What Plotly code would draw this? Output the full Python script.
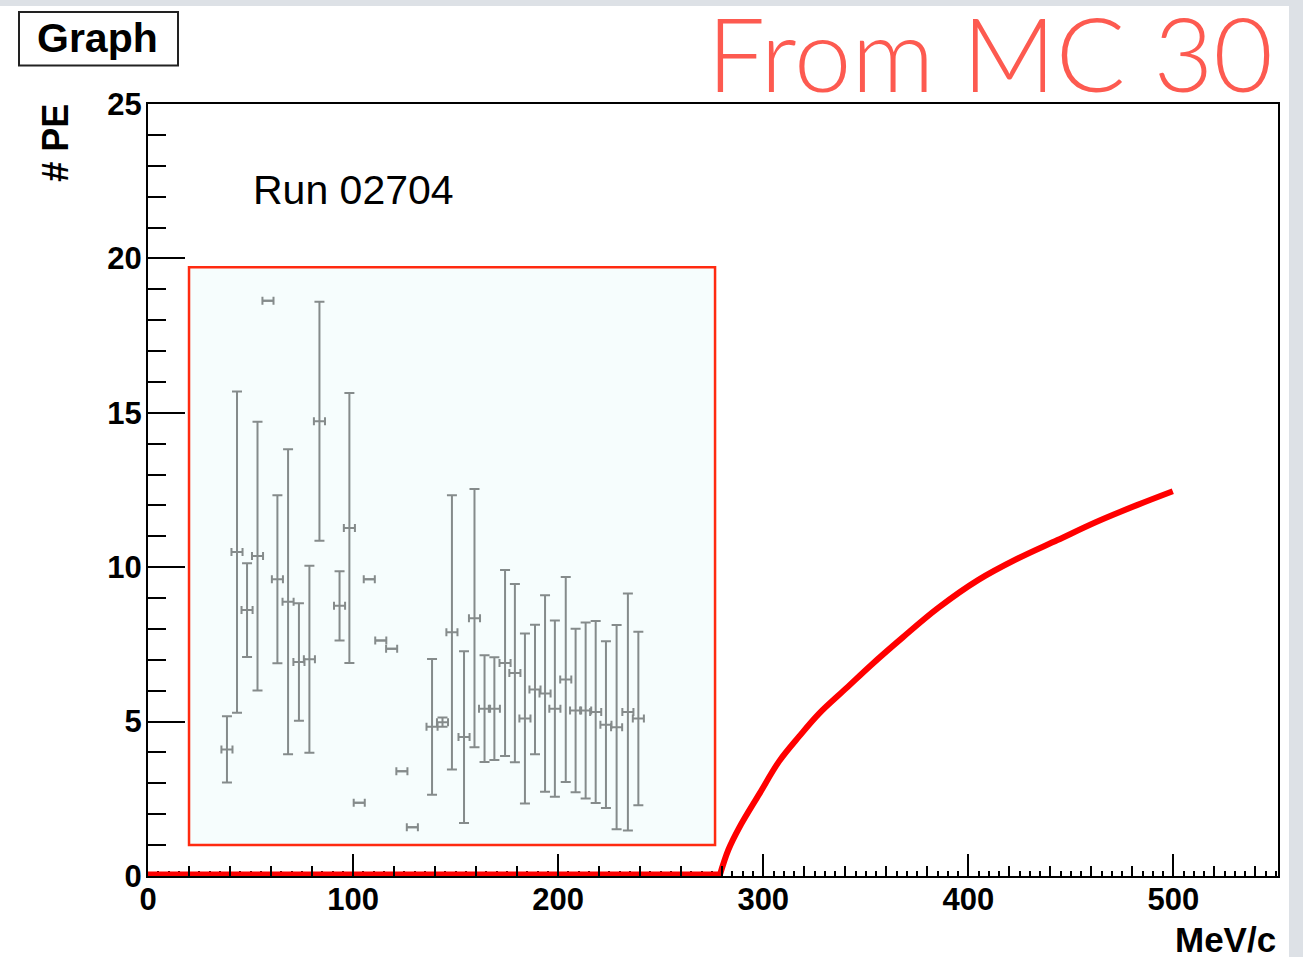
import plotly.graph_objects as go

# ---- main curve (MC expectation) ----
flat_x = [0, 278.7]
flat_y = [0, 0]
curve_x = [278.7, 283.0, 288.4, 298.1, 307.8, 317.5, 327.2, 340.8, 352.4, 367.9,
           385.3, 404.7, 424.1, 443.5, 462.9, 482.2, 499.7]
curve_y = [0, 0.85, 1.58, 2.66, 3.72, 4.52, 5.26, 6.10, 6.82, 7.72,
           8.68, 9.58, 10.28, 10.88, 11.48, 12.01, 12.46]

# ---- inset data (Run 02704) ----
inset_x = [38.5, 43.4, 48.3, 53.4, 58.5, 63.1, 68.3, 73.6, 78.7, 83.6,
           93.4, 98.2, 103.0, 107.9, 113.5, 118.8, 123.8, 128.9, 138.5, 143.6,
           148.2, 154.1, 159.2, 164.1, 168.9, 174.1, 178.9, 183.8, 188.7, 193.6,
           198.4, 203.7, 208.5, 213.4, 218.3, 223.3, 228.5, 234.0, 239.1]
inset_y = [4.10, 10.49, 8.61, 10.36, 18.63, 9.61, 8.88, 6.93, 7.02, 14.73,
           8.75, 11.27, 2.37, 9.61, 7.63, 7.36, 3.39, 1.58, 4.83, 4.98,
           7.89, 4.50, 8.35, 5.42, 5.42, 6.90, 6.57, 5.10, 6.04, 5.91,
           5.42, 6.36, 5.36, 5.36, 5.31, 4.90, 4.82, 5.31, 5.10]
inset_err = [1.07, 5.20, 1.52, 4.35, 0, 2.72, 4.94, 1.90, 3.03, 3.87,
             1.12, 4.37, 0, 0, 0, 0, 0, 0, 2.20, 0.15,
             4.44, 2.78, 4.18, 1.73, 1.66, 3.01, 2.89, 2.75, 2.10, 3.18,
             2.85, 3.32, 2.65, 2.85, 2.95, 2.70, 3.31, 3.84, 2.81]
inset_xerr = [2.7] * len(inset_x)

x_ticks = [0, 100, 200, 300, 400, 500]
y_ticks = [0, 5, 10, 15, 20, 25]

FONT = "Liberation Sans, Arial, sans-serif"

fig = go.Figure()

fig.add_trace(go.Scatter(
    x=inset_x, y=inset_y, mode="markers",
    marker=dict(size=1, color="rgba(0,0,0,0)"),
    error_y=dict(type="data", array=inset_err, symmetric=True,
                 color="#858b8b", thickness=2, width=5),
    error_x=dict(type="data", array=inset_xerr, symmetric=True,
                 color="#858b8b", thickness=2, width=4),
    showlegend=False, hoverinfo="x+y",
))

fig.add_trace(go.Scatter(
    x=flat_x, y=flat_y, mode="lines",
    line=dict(color="#ff0000", width=9),
    cliponaxis=False, showlegend=False,
))
fig.add_trace(go.Scatter(
    x=curve_x, y=curve_y, mode="lines",
    line=dict(color="#ff0000", width=6, shape="spline", smoothing=1.0),
    cliponaxis=False, showlegend=False,
))

# overlay axis providing the medium (every 20) x ticks
fig.add_trace(go.Scatter(x=[0], y=[0], xaxis="x3", mode="none",
                         showlegend=False, hoverinfo="skip"))

W, H = 1303, 957
ml, mr, mt, mb = 148, 25, 104, 81
pw, ph = W - ml - mr, H - mt - mb

def px_x(p):
    return (p - ml) / pw

def px_y(p):
    return (H - mb - p) / ph

shapes = [
    dict(type="rect", xref="paper", yref="paper", layer="below",
         x0=px_x(0), x1=px_x(1289), y0=px_y(957), y1=px_y(6),
         fillcolor="white", line=dict(width=0)),
    dict(type="rect", xref="x", yref="y", layer="below",
         x0=20.0, x1=276.5, y0=1.0, y1=19.71,
         fillcolor="#f6fdfd", line=dict(color="#ff2a10", width=2.5)),
    dict(type="rect", xref="paper", yref="paper", layer="above",
         x0=px_x(19), x1=px_x(178), y0=px_y(65.5), y1=px_y(12),
         fillcolor="white", line=dict(color="#222222", width=2)),
]

annotations = [
    dict(text="Graph", xref="paper", yref="paper", x=px_x(97.5), y=px_y(38),
         xanchor="center", yanchor="middle", showarrow=False,
         font=dict(family=FONT, size=41, color="black", weight="bold")),
    dict(text="From MC 30", xref="paper", yref="paper", x=px_x(1275), y=px_y(52),
         xanchor="right", yanchor="middle", showarrow=False,
         font=dict(family="Lato, Open Sans, sans-serif", size=103,
                   color="#fd5a50", weight=300)),
    dict(text="Run 02704", xref="x", yref="y", x=50.3, y=22.2,
         xanchor="left", yanchor="middle", showarrow=False,
         font=dict(family=FONT, size=41, color="black")),
    dict(text="# PE", xref="paper", yref="paper", x=px_x(56), y=1.003,
         xanchor="center", yanchor="top", textangle=-90, showarrow=False,
         font=dict(family=FONT, size=36, color="black", weight="bold")),
    dict(text="MeV/c", xref="paper", yref="paper", x=1.0, y=px_y(939),
         xanchor="right", yanchor="middle", showarrow=False,
         font=dict(family=FONT, size=35, color="black", weight="bold")),
]

fig.update_layout(
    width=W, height=H, autosize=False,
    margin=dict(l=ml, r=mr, t=mt, b=mb, pad=0),
    paper_bgcolor="#dde1e6", plot_bgcolor="white",
    shapes=shapes, annotations=annotations, showlegend=False,
    xaxis=dict(range=[0, 551], tickmode="array", tickvals=x_ticks,
               ticktext=[str(v) for v in x_ticks],
               ticks="inside", ticklen=22, tickwidth=2, tickcolor="black",
               minor=dict(dtick=5, tick0=0, ticks="inside", ticklen=5,
                          tickwidth=1.5, tickcolor="black", showgrid=False),
               showline=True, linecolor="black", linewidth=2, mirror=True,
               showgrid=False, zeroline=False, layer="below traces",
               tickfont=dict(family=FONT, size=31, color="black", weight="bold"),
               ticklabelstandoff=-5),
    xaxis3=dict(range=[0, 551], overlaying="x", anchor="y", side="bottom",
                tickmode="linear", tick0=0, dtick=20, ticks="inside",
                ticklen=10, tickwidth=1.5, tickcolor="black",
                showticklabels=False, showline=False, showgrid=False,
                zeroline=False),
    yaxis=dict(range=[0, 25], tickmode="array", tickvals=y_ticks,
               ticktext=[str(v) for v in y_ticks],
               ticks="inside", ticklen=37, tickwidth=2, tickcolor="black",
               minor=dict(dtick=1, tick0=0, ticks="inside", ticklen=18,
                          tickwidth=2, tickcolor="black", showgrid=False),
               showline=True, linecolor="black", linewidth=2, mirror=True,
               showgrid=False, zeroline=False, layer="below traces",
               tickfont=dict(family=FONT, size=31, color="black", weight="bold"),
               ticklabelstandoff=-2),
)

fig.write_html("out.html")
